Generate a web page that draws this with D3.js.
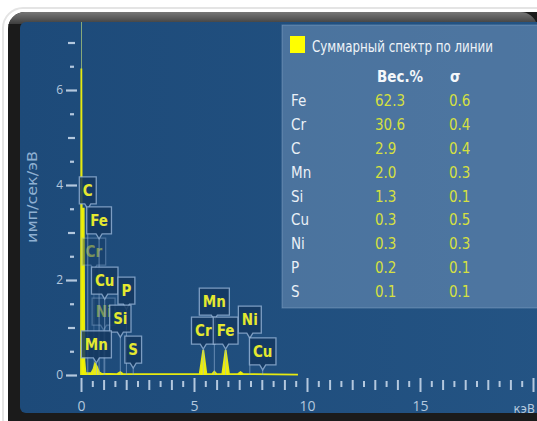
<!DOCTYPE html>
<html><head><meta charset="utf-8">
<script src="https://cdn.jsdelivr.net/npm/d3@7"></script>
<style>html,body{margin:0;padding:0;background:#fff;}svg{display:block;}</style>
</head><body>
<script>
// ---- data ----
const spectrumKeV    = [0, 0.015, 0.03, 0.045, 0.06, 0.12, 0.15, 0.2, 0.45, 0.55, 0.62, 0.7, 0.8, 0.9, 1.6, 1.74, 1.85, 5.25, 5.41, 5.55, 5.8, 5.9, 6.0, 6.25, 6.4, 6.55, 6.95, 7.06, 7.17, 9.6];
const spectrumCounts = [0, 6.45, 3.5, 3.5, 3.5, 3.5, 0.3, 0.04, 0.04, 0.12, 0.24, 0.18, 0.06, 0.03, 0.02, 0.06, 0.02, 0.02, 0.53, 0.02, 0.02, 0.07, 0.02, 0.02, 0.53, 0.02, 0.02, 0.06, 0.02, 0.01];

const peakNames  = ["Cr","Ni","C","Fe","Cu","P","Si","Mn","S","Mn","Cr","Fe","Ni","Cu"];
const peakKeV    = [0.57, 1.0, 0.3, 0.8, 1.05, 2.01, 1.74, 0.68, 2.31, 5.9, 5.41, 6.4, 7.47, 8.04];
const peakLevel  = [2.88, 1.62, 4.17, 3.54, 2.27, 2.06, 1.47, 0.93, 0.82, 1.83, 1.22, 1.22, 1.45, 0.78];

const elements  = ["Fe","Cr","C","Mn","Si","Cu","Ni","P","S"];
const weightPct = [62.3, 30.6, 2.9, 2.0, 1.3, 0.3, 0.3, 0.2, 0.1];
const sigma     = [0.6, 0.4, 0.4, 0.3, 0.1, 0.5, 0.3, 0.1, 0.1];

const xTicks = d3.range(0, 20.01, 0.5);
const yTicks = d3.range(0, 7.01, 0.5);
const xLabels = [0, 5, 10, 15];
const yLabels = [0, 2, 4, 6];
const legendTitle = "Суммарный спектр по линии";
const yTitle = "имп/сек/эВ";
const xUnit = "кэВ";

// ---- drawing ----
const W = 537, H = 421;
const FONT = "'Liberation Sans Narrow', 'DejaVu Sans Condensed', 'Open Sans', sans-serif";
const svg = d3.select("body").append("svg").attr("width", W).attr("height", H);
const defs = svg.append("defs");
const tg = defs.append("linearGradient").attr("id","topg").attr("x1",0).attr("y1",0).attr("x2",0).attr("y2",1);
tg.append("stop").attr("offset","0%").attr("stop-color","#777");
tg.append("stop").attr("offset","100%").attr("stop-color","#262626");
const bg = defs.append("linearGradient").attr("id","bgg").attr("x1",0).attr("y1",0).attr("x2",1).attr("y2",0);
bg.append("stop").attr("offset","0%").attr("stop-color","#1d4a79");
bg.append("stop").attr("offset","100%").attr("stop-color","#245484");
defs.append("clipPath").attr("id","plotclip").append("rect").attr("x",20).attr("y",22).attr("width",520).attr("height",391);

// shadow arc + frame
svg.append("rect").attr("x",3).attr("y",8).attr("width",560).attr("height",430).attr("rx",20).attr("fill","none").attr("stroke","#e4e4e4").attr("stroke-width",2);
svg.append("rect").attr("x",8).attr("y",12).attr("width",560).attr("height",430).attr("rx",17).attr("fill","#1b1b1b");
svg.append("path").attr("d","M8,29 A17,17 0 0 1 25,12 L520,12 A17,17 0 0 1 537,25 L537,24 L8,24 Z").attr("fill","url(#topg)");
svg.append("rect").attr("x",20).attr("y",22).attr("width",540).attr("height",391).attr("rx",6).attr("fill","url(#bgg)");

const x = d3.scaleLinear().domain([0, 20]).range([81, 533]);
const y = d3.scaleLinear().domain([0, 7]).range([375, 42.5]);

const g = svg.append("g").attr("clip-path","url(#plotclip)");

// legend panel
g.append("rect").attr("x",282).attr("y",25).attr("width",260).attr("height",283)
  .attr("fill","rgba(140,170,205,0.40)").attr("stroke","rgba(170,195,225,0.35)");

// y axis line (faint)
g.append("line").attr("x1",x(0)+0.5).attr("x2",x(0)+0.5).attr("y1",22).attr("y2",y(0))
  .attr("stroke","#86a87a").attr("stroke-width",1);

// Y axis ticks
const tickCol = "#b4c8de";
const yAx = g.append("g").attr("transform","translate(77,0)")
  .call(d3.axisLeft(y).tickValues(yTicks).tickSize(0).tickFormat(d => yLabels.includes(d) ? d : ""));
yAx.select(".domain").remove();
yAx.selectAll(".tick line").attr("stroke",tickCol).attr("stroke-width",2.2)
  .attr("x1", d => yLabels.includes(d) ? 0 : (d % 1 === 0 ? -2 : -3))
  .attr("x2", d => yLabels.includes(d) ? -11 : (d % 1 === 0 ? -9 : -7));
yAx.selectAll(".tick text").attr("x",-14).attr("fill",tickCol)
  .style("font-family","'Open Sans', sans-serif").style("font-size","12px");

// X axis ticks
const xAx = g.append("g").attr("transform","translate(0,377)")
  .call(d3.axisBottom(x).tickValues(xTicks).tickSize(0).tickFormat(d => xLabels.includes(d) ? d : ""));
xAx.select(".domain").remove();
xAx.selectAll(".tick line").attr("stroke",tickCol).attr("stroke-width",2)
  .attr("y1", d => d % 5 === 0 ? 1 : (d % 1 === 0 ? 3 : 4))
  .attr("y2", d => d % 5 === 0 ? 15 : (d % 1 === 0 ? 13 : 10));
xAx.selectAll(".tick text").attr("y",24).attr("fill",tickCol)
  .style("font-family","'Open Sans', sans-serif").style("font-size","14px");
svg.append("text").attr("x",535).attr("y",413).attr("text-anchor","end").text(xUnit).attr("fill",tickCol)
  .style("font-family",FONT).style("font-size","13px");

// y title
svg.append("text").attr("transform","translate(37,197) rotate(-90)").attr("text-anchor","middle")
  .text(yTitle).attr("fill","#8fb0d2").attr("textLength",92).attr("lengthAdjust","spacingAndGlyphs")
  .style("font-family",FONT).style("font-size","14px");

// spectrum
const spec = spectrumKeV.map((e,i)=>({e, c: spectrumCounts[i]}));
g.append("path").datum(spec)
  .attr("d", d3.area().x(d=>x(d.e)).y0(y(0)).y1(d=>y(d.c)))
  .attr("fill","#f2f200");
g.append("path").datum(spec)
  .attr("d", d3.line().x(d=>x(d.e)).y(d=>y(d.c)))
  .attr("fill","none").attr("stroke","#e6ea10").attr("stroke-width",1.8);

// peak labels
const faint = new Set([0,1]);
const lab = g.append("g");
peakNames.forEach((name,i)=>{
  const cx = x(peakKeV[i]);
  const top = y(peakLevel[i]);
  const grp = lab.append("g").attr("opacity", faint.has(i) ? 0.45 : 1);
  const t = grp.append("text").text(name)
    .style("font-family",FONT).style("font-size","15px").style("font-weight","bold")
    .attr("text-anchor","middle").attr("x",cx).attr("y",top+19).attr("fill","#e4e830");
  const w = t.node().getComputedTextLength() + 7;
  const h = 27;
  const bot = top + h;
  grp.insert("path","text")
    .attr("d", `M${cx-w/2},${top} L${cx+w/2},${top} L${cx+w/2},${bot} L${cx+3},${bot} L${cx},${bot+5} L${cx-3},${bot} L${cx-w/2},${bot} Z`)
    .attr("fill","rgba(20,55,95,0.85)").attr("stroke","rgba(150,180,215,0.8)").attr("stroke-width",1.3);
  grp.insert("line","text").attr("x1",cx).attr("x2",cx).attr("y1",bot+5).attr("y2",y(0))
    .attr("stroke","rgba(150,180,215,0.6)").attr("stroke-width",1);
});

// legend content
const lg = svg.append("g");
lg.append("rect").attr("x",290).attr("y",36).attr("width",15).attr("height",17).attr("fill","#ffff00");
lg.append("text").attr("x",312).attr("y",52).text(legendTitle).attr("fill","#eef3f8")
  .attr("textLength",181).attr("lengthAdjust","spacingAndGlyphs")
  .style("font-family",FONT).style("font-size","15px");
lg.append("text").attr("x",377).attr("y",82).text("Вес.%").attr("fill","#f4f7fa")
  .style("font-family",FONT).style("font-size","15px").style("font-weight","bold");
lg.append("text").attr("x",450).attr("y",82).text("σ").attr("fill","#f4f7fa")
  .style("font-family",FONT).style("font-size","15px").style("font-weight","bold");
const rowY = d3.scaleLinear().domain([0, elements.length-1]).range([106, 297]);
elements.forEach((el,i)=>{
  const yy = rowY(i);
  lg.append("text").attr("x",291).attr("y",yy).text(el).attr("fill","#eaf0f6")
    .style("font-family",FONT).style("font-size","15px");
  lg.append("text").attr("x",375).attr("y",yy).text(weightPct[i].toFixed(1)).attr("fill","#d6e040")
    .style("font-family",FONT).style("font-size","15px");
  lg.append("text").attr("x",449).attr("y",yy).text(sigma[i].toFixed(1)).attr("fill","#d6e040")
    .style("font-family",FONT).style("font-size","15px");
});
</script>
</body></html>
